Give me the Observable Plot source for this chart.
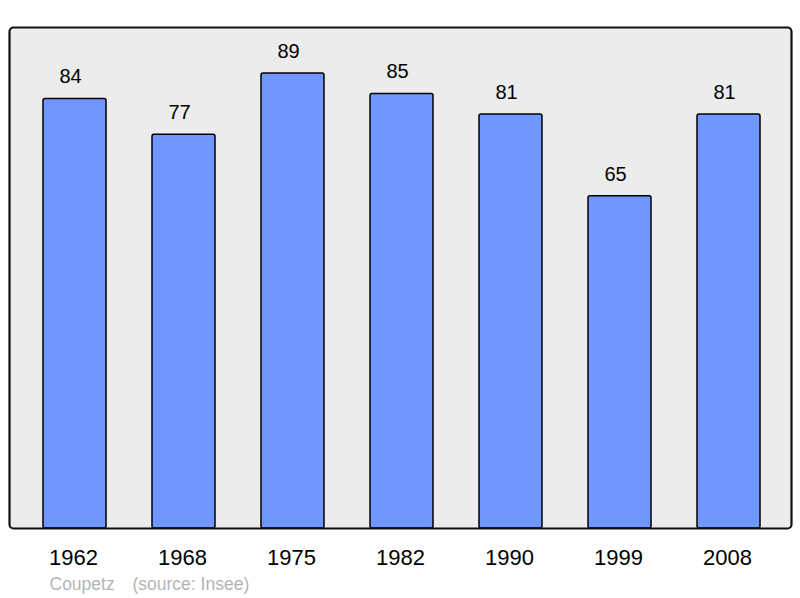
<!DOCTYPE html>
<html>
<head>
<meta charset="utf-8">
<script src="https://cdn.jsdelivr.net/npm/d3@7"></script>
<script src="https://cdn.jsdelivr.net/npm/@observablehq/plot@0.6"></script>
<style>
  body { margin: 0; background: #fff; }
  svg { display: block; }
</style>
</head>
<body>
<div id="chart"></div>
<script>
const years = ["1962", "1968", "1975", "1982", "1990", "1999", "2008"];
const population = [84, 77, 89, 85, 81, 65, 81];
const captionAuthor = "Coupetz";
const captionSource = "(source: Insee)";

const data = years.map((y, i) => ({year: y, value: population[i]}));

const chart = Plot.plot({
  width: 800,
  height: 598,
  marginLeft: 9,
  marginRight: 9,
  marginTop: 27,
  marginBottom: 70,
  style: {fontFamily: "'Liberation Sans', Arial, sans-serif", background: "white"},
  x: {domain: years, range: [42, 761], paddingInner: 0.424, paddingOuter: 0, axis: null},
  y: {domain: [0, 98], axis: null},
  marks: [
    Plot.frame({fill: "#ececec", stroke: "none", rx: 4}),
    Plot.barY(data, {x: "year", y: "value", fill: "#7097ff", stroke: "black", strokeWidth: 1.5, rx: 2}),
    Plot.text(data, {x: "year", y: "value", text: d => String(d.value), dx: -4.5, dy: -22, lineAnchor: "middle", fontSize: 20, fill: "black"}),
    Plot.frame({fill: "none", stroke: "#111", strokeWidth: 2.2, rx: 4}),
    Plot.text(years, {x: d => d, frameAnchor: "bottom", lineAnchor: "middle", dx: -1.5, dy: 29, fontSize: 22, fill: "black"}),
    Plot.text([captionAuthor], {frameAnchor: "bottom-left", lineAnchor: "middle", dx: 40, dy: 56, textAnchor: "start", fontSize: 17.5, fill: "#b4b4b4"}),
    Plot.text([captionSource], {frameAnchor: "bottom-left", lineAnchor: "middle", dx: 123, dy: 56, textAnchor: "start", fontSize: 17.5, fill: "#b4b4b4"})
  ]
});
document.getElementById("chart").appendChild(chart);
</script>
</body>
</html>
